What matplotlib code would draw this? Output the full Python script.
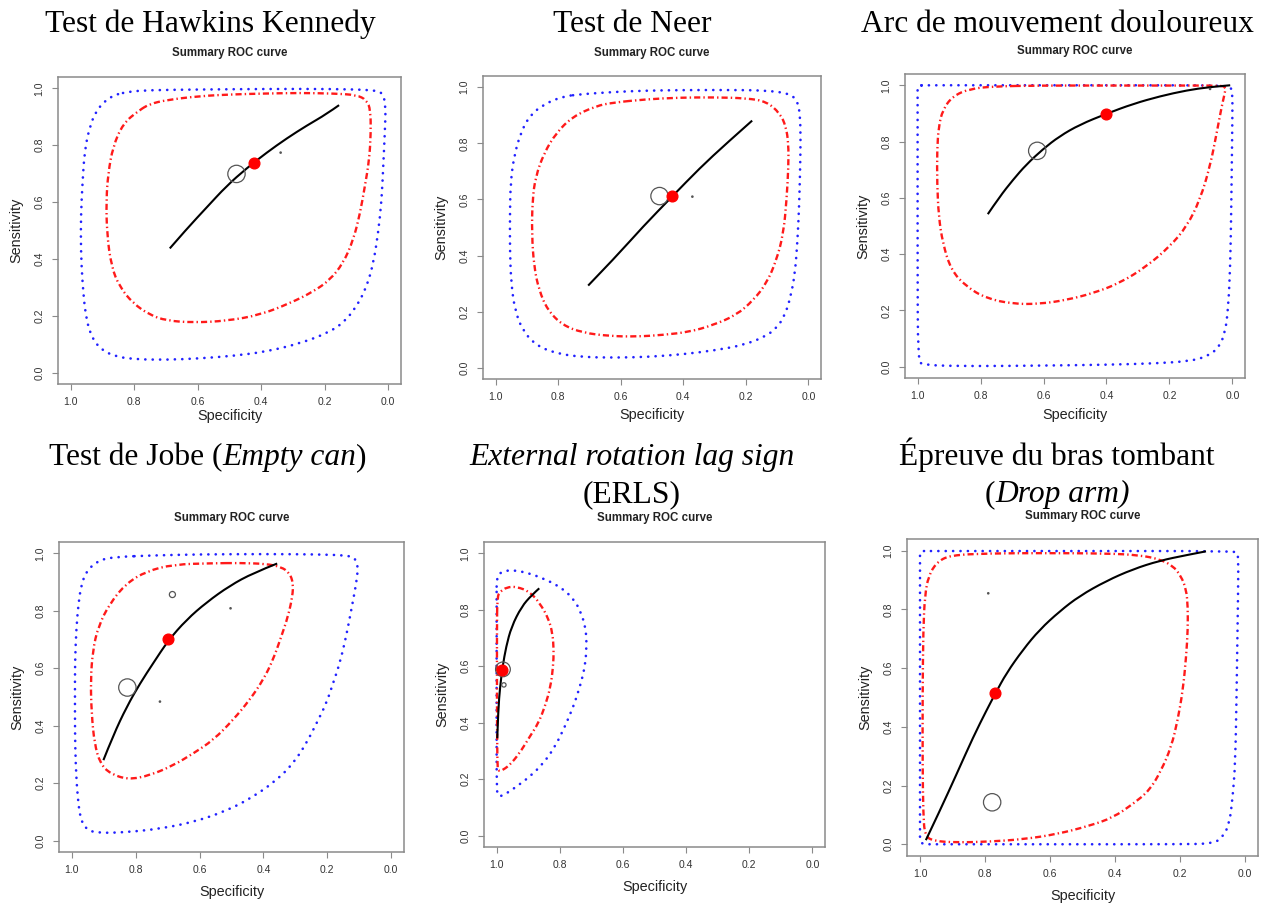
import matplotlib
matplotlib.use("Agg")
import matplotlib.pyplot as plt
from matplotlib.path import Path
from matplotlib.patches import PathPatch
import numpy as np

# ---------------- data (specificity, sensitivity) ----------------
# Panel 1 : Test de Hawkins Kennedy
hk_pred_spec = [0.877,0.919,0.940,0.956,0.963,0.968,0.968,0.963,0.953,0.935,0.909,0.867,0.804,0.699,0.593,0.488,0.383,0.278,0.194,0.142,0.100,0.068,0.047,0.032,0.021,0.016,0.011,0.008,0.016,0.037,0.173,0.383,0.593,0.751,0.825]
hk_pred_sens = [0.971,0.924,0.865,0.783,0.666,0.549,0.431,0.314,0.197,0.127,0.086,0.059,0.047,0.045,0.050,0.059,0.074,0.103,0.138,0.174,0.232,0.302,0.385,0.490,0.607,0.724,0.842,0.936,0.980,0.994,0.998,0.998,0.996,0.994,0.988]
hk_conf_spec = [0.783,0.835,0.867,0.882,0.888,0.886,0.872,0.846,0.804,0.751,0.699,0.614,0.509,0.404,0.310,0.236,0.184,0.142,0.110,0.089,0.074,0.060,0.055,0.056,0.068,0.100,0.173,0.278,0.383,0.488,0.593,0.699,0.751]
hk_conf_sens = [0.924,0.877,0.795,0.701,0.607,0.490,0.373,0.302,0.244,0.203,0.183,0.176,0.182,0.203,0.244,0.285,0.326,0.385,0.467,0.560,0.654,0.748,0.842,0.924,0.959,0.977,0.982,0.984,0.982,0.979,0.973,0.959,0.945]
hk_sroc_spec = [0.688,0.636,0.572,0.509,0.446,0.383,0.320,0.257,0.194,0.155]
hk_sroc_sens = [0.437,0.504,0.581,0.657,0.719,0.774,0.824,0.869,0.910,0.941]
hk_summary = (0.422, 0.736)
hk_study_spec = [0.478, 0.339]
hk_study_sens = [0.699, 0.774]
hk_study_w = [1.0, 0.08]

# Panel 2 : Test de Neer
neer_pred_spec = [0.786,0.850,0.893,0.920,0.941,0.952,0.954,0.954,0.950,0.938,0.914,0.872,0.807,0.722,0.615,0.508,0.401,0.294,0.209,0.144,0.102,0.075,0.057,0.043,0.035,0.030,0.027,0.025,0.027,0.037,0.064,0.144,0.251,0.358,0.465,0.572,0.679,0.733]
neer_pred_sens = [0.967,0.937,0.895,0.836,0.753,0.658,0.539,0.420,0.301,0.206,0.134,0.081,0.051,0.038,0.036,0.039,0.048,0.063,0.081,0.108,0.140,0.188,0.253,0.337,0.455,0.574,0.693,0.812,0.907,0.955,0.979,0.989,0.990,0.990,0.989,0.986,0.979,0.974]
neer_conf_spec = [0.626,0.679,0.754,0.807,0.845,0.872,0.882,0.884,0.877,0.861,0.834,0.786,0.722,0.636,0.551,0.465,0.380,0.305,0.230,0.176,0.134,0.102,0.080,0.070,0.064,0.064,0.072,0.091,0.134,0.198,0.305,0.412,0.519]
neer_conf_sens = [0.945,0.933,0.895,0.836,0.765,0.681,0.598,0.479,0.360,0.277,0.206,0.152,0.125,0.113,0.111,0.117,0.128,0.152,0.188,0.241,0.301,0.384,0.479,0.598,0.717,0.800,0.860,0.907,0.949,0.961,0.964,0.963,0.957]
neer_sroc_spec = [0.704,0.615,0.529,0.436,0.348,0.262,0.180]
neer_sroc_sens = [0.293,0.396,0.503,0.610,0.711,0.800,0.881]
neer_summary = (0.436, 0.612)
neer_study_spec = [0.476, 0.371]
neer_study_sens = [0.612, 0.610]
neer_study_w = [1.0, 0.08]

# Panel 3 : Arc de mouvement douloureux
arc_pred_spec = [1.000,1.000,1.000,1.000,0.999,0.984,0.825,0.613,0.400,0.241,0.135,0.082,0.045,0.023,0.013,0.007,0.004,0.002,0.000,0.000,0.013,0.188,0.506,0.825,0.975]
arc_pred_sens = [0.999,0.975,0.712,0.356,0.024,0.005,0.002,0.004,0.007,0.012,0.020,0.036,0.065,0.119,0.214,0.356,0.534,0.712,0.890,0.985,0.999,1.000,1.000,1.000,1.000]
arc_conf_spec = [0.761,0.835,0.889,0.920,0.933,0.938,0.938,0.933,0.920,0.894,0.846,0.782,0.697,0.613,0.528,0.443,0.358,0.273,0.199,0.145,0.103,0.071,0.050,0.034,0.024,0.021,0.039,0.188,0.400,0.613]
arc_conf_sens = [0.996,0.987,0.961,0.913,0.854,0.771,0.652,0.534,0.439,0.344,0.285,0.243,0.223,0.223,0.237,0.261,0.297,0.356,0.427,0.498,0.593,0.712,0.830,0.925,0.973,0.994,0.999,0.999,0.999,0.999]
arc_sroc_spec = [0.777,0.740,0.697,0.655,0.602,0.549,0.485,0.400,0.315,0.230,0.145,0.071,0.007]
arc_sroc_sens = [0.542,0.603,0.664,0.718,0.773,0.819,0.860,0.899,0.934,0.961,0.982,0.994,1.000]
arc_summary = (0.400, 0.899)
arc_study_spec = [0.620, 0.071]
arc_study_sens = [0.767, 0.987]
arc_study_w = [1.0, 0.08]

# Panel 4 : Test de Jobe (Empty can)
jobe_pred_spec = [0.859,0.911,0.951,0.969,0.979,0.986,0.990,0.990,0.990,0.988,0.982,0.972,0.951,0.911,0.828,0.724,0.620,0.516,0.432,0.359,0.307,0.266,0.234,0.203,0.182,0.161,0.141,0.125,0.111,0.104,0.109,0.130,0.234,0.391,0.599,0.755]
jobe_pred_sens = [0.988,0.979,0.944,0.897,0.828,0.734,0.618,0.501,0.385,0.268,0.152,0.070,0.035,0.026,0.029,0.041,0.064,0.103,0.152,0.210,0.268,0.338,0.408,0.478,0.548,0.618,0.711,0.804,0.886,0.944,0.979,0.993,0.997,0.998,0.997,0.993]
jobe_conf_spec = [0.557,0.682,0.766,0.828,0.880,0.917,0.934,0.941,0.938,0.929,0.911,0.880,0.823,0.755,0.682,0.620,0.557,0.495,0.443,0.401,0.370,0.344,0.323,0.309,0.307,0.318,0.344,0.391,0.474]
jobe_conf_sens = [0.966,0.962,0.938,0.897,0.828,0.746,0.664,0.559,0.443,0.338,0.268,0.233,0.212,0.227,0.262,0.303,0.350,0.420,0.490,0.559,0.629,0.711,0.781,0.851,0.897,0.932,0.953,0.964,0.967]
jobe_sroc_spec = [0.901,0.870,0.828,0.786,0.745,0.698,0.641,0.578,0.505,0.432,0.357]
jobe_sroc_sens = [0.280,0.367,0.466,0.548,0.618,0.697,0.769,0.830,0.888,0.932,0.965]
jobe_summary = (0.698, 0.702)
jobe_study_spec = [0.826, 0.685, 0.503, 0.724]
jobe_study_sens = [0.533, 0.857, 0.809, 0.484]
jobe_study_w = [1.0, 0.35, 0.08, 0.08]

# Panel 5 : External rotation lag sign (ERLS)
erls_pred_spec = [1.000,0.984,0.953,0.905,0.852,0.800,0.757,0.731,0.717,0.715,0.720,0.736,0.757,0.784,0.815,0.852,0.895,0.937,0.968,0.995,1.000,1.000,1.000,1.000]
erls_pred_sens = [0.917,0.935,0.941,0.932,0.911,0.882,0.841,0.787,0.728,0.669,0.599,0.528,0.457,0.386,0.315,0.256,0.209,0.174,0.150,0.136,0.162,0.374,0.610,0.847]
erls_conf_spec = [0.998,0.989,0.968,0.937,0.895,0.863,0.836,0.823,0.819,0.821,0.829,0.847,0.868,0.895,0.921,0.953,0.979,0.995,0.998,0.999,0.999]
erls_conf_sens = [0.847,0.864,0.880,0.882,0.864,0.823,0.770,0.717,0.658,0.599,0.528,0.457,0.398,0.351,0.303,0.256,0.233,0.227,0.256,0.492,0.728]
erls_sroc_spec = [0.998,0.995,0.989,0.981,0.970,0.953,0.921,0.889,0.865]
erls_sroc_sens = [0.345,0.445,0.528,0.599,0.669,0.740,0.811,0.852,0.876]
erls_summary = (0.982, 0.587)
erls_study_spec = [0.980, 0.977]
erls_study_sens = [0.589, 0.534]
erls_study_w = [0.85, 0.25]

# Panel 6 : Epreuve du bras tombant (Drop arm)
drop_pred_spec = [1.000,1.000,1.000,1.000,1.000,0.990,0.970,0.600,0.200,0.099,0.069,0.048,0.038,0.030,0.026,0.023,0.020,0.023,0.033,0.500,0.975]
drop_pred_sens = [0.999,0.975,0.500,0.030,0.010,0.000,0.000,0.000,0.000,0.002,0.023,0.069,0.160,0.274,0.503,0.731,0.960,0.992,0.999,0.999,0.999]
drop_conf_spec = [0.785,0.908,0.949,0.974,0.985,0.990,0.992,0.992,0.990,0.985,0.959,0.887,0.785,0.683,0.580,0.478,0.406,0.345,0.294,0.258,0.227,0.207,0.191,0.181,0.176,0.176,0.181,0.197,0.222,0.263,0.324,0.427,0.632]
drop_conf_sens = [0.991,0.985,0.960,0.914,0.846,0.731,0.503,0.274,0.103,0.029,0.011,0.006,0.009,0.017,0.034,0.063,0.091,0.137,0.183,0.251,0.331,0.423,0.526,0.640,0.731,0.811,0.869,0.914,0.949,0.971,0.985,0.991,0.992]
drop_sroc_spec = [0.982,0.939,0.887,0.836,0.795,0.768,0.734,0.683,0.632,0.570,0.509,0.427,0.345,0.263,0.181,0.120]
drop_sroc_sens = [0.014,0.114,0.240,0.366,0.457,0.514,0.583,0.663,0.731,0.794,0.846,0.897,0.937,0.966,0.985,0.998]
drop_summary = (0.768, 0.517)
drop_study_spec = [0.778, 0.790]
drop_study_sens = [0.143, 0.855]
drop_study_w = [1.0, 0.08]

tick_values = [0.0, 0.2, 0.4, 0.6, 0.8, 1.0]
tick_labels = ["0.0", "0.2", "0.4", "0.6", "0.8", "1.0"]

titles = [
    [[("Test de Hawkins Kennedy", "normal")]],
    [[("Test de Neer", "normal")]],
    [[("Arc de mouvement douloureux", "normal")]],
    [[("Test de Jobe (", "normal"), ("Empty can", "italic"), (")", "normal")]],
    [[("External rotation lag sign", "italic")], [("(ERLS)", "normal")]],
    [[("Épreuve du bras tombant", "normal")], [("(", "normal"), ("Drop arm)", "italic")]],
]

# ---------------- layout (pixels) ----------------
W, H = 1267, 907
fig = plt.figure(figsize=(W / 100, H / 100), dpi=100)
fig.patch.set_facecolor("white")

layout = [
    dict(box=(58, 77, 401, 384), tx=210, ty=[32], sy=53, xly=416),
    dict(box=(483, 76, 821, 379), tx=632, ty=[32], sy=53, xly=415),
    dict(box=(905, 74, 1245, 378), tx=1057, ty=[32], sy=51, xly=415),
    dict(box=(59, 542, 404, 852), tx=208, ty=[465], sy=518, xly=892),
    dict(box=(484, 542, 825, 847), tx=632, ty=[465, 502], sy=518, xly=887),
    dict(box=(907, 539, 1258, 856), tx=1057, ty=[465, 502], sy=516, xly=896),
]

panels = [
    (hk_pred_spec, hk_pred_sens, hk_conf_spec, hk_conf_sens, hk_sroc_spec, hk_sroc_sens, hk_summary, hk_study_spec, hk_study_sens, hk_study_w),
    (neer_pred_spec, neer_pred_sens, neer_conf_spec, neer_conf_sens, neer_sroc_spec, neer_sroc_sens, neer_summary, neer_study_spec, neer_study_sens, neer_study_w),
    (arc_pred_spec, arc_pred_sens, arc_conf_spec, arc_conf_sens, arc_sroc_spec, arc_sroc_sens, arc_summary, arc_study_spec, arc_study_sens, arc_study_w),
    (jobe_pred_spec, jobe_pred_sens, jobe_conf_spec, jobe_conf_sens, jobe_sroc_spec, jobe_sroc_sens, jobe_summary, jobe_study_spec, jobe_study_sens, jobe_study_w),
    (erls_pred_spec, erls_pred_sens, erls_conf_spec, erls_conf_sens, erls_sroc_spec, erls_sroc_sens, erls_summary, erls_study_spec, erls_study_sens, erls_study_w),
    (drop_pred_spec, drop_pred_sens, drop_conf_spec, drop_conf_sens, drop_sroc_spec, drop_sroc_sens, drop_summary, drop_study_spec, drop_study_sens, drop_study_w),
]


def fx(x):
    return x / W


def fy(y):
    return 1 - y / H


renderer = fig.canvas.get_renderer()


def rich_line(xc, yb, parts, size=22.7):
    objs, widths = [], []
    for s, st in parts:
        t = fig.text(0, 0, s, fontsize=size, family="Liberation Serif", style=st,
                     ha="left", va="baseline", color="black")
        widths.append(t.get_window_extent(renderer).width)
        objs.append(t)
    x = xc - sum(widths) / 2
    for t, w in zip(objs, widths):
        t.set_position((fx(x), fy(yb)))
        x += w


def smooth_path(xs, ys, closed=False):
    """Quadratic-Bezier path using the read points as control points."""
    p = np.column_stack([xs, ys]).astype(float)
    n = len(p)
    verts, codes = [], []
    if closed:
        mid = lambda i: (p[i % n] + p[(i + 1) % n]) / 2
        verts.append(mid(n - 1)); codes.append(Path.MOVETO)
        for i in range(n):
            verts += [p[i], mid(i)]
            codes += [Path.CURVE3, Path.CURVE3]
    else:
        verts.append(p[0]); codes.append(Path.MOVETO)
        for i in range(1, n - 1):
            end = p[n - 1] if i == n - 2 else (p[i] + p[i + 1]) / 2
            verts += [p[i], end]
            codes += [Path.CURVE3, Path.CURVE3]
        if n == 2:
            verts.append(p[1]); codes.append(Path.LINETO)
    return Path(np.array(verts), codes)


SANS = "Liberation Sans"
for (pred_x, pred_y, conf_x, conf_y, sroc_x, sroc_y, summ, st_x, st_y, st_w), lay, ttl in zip(panels, layout, titles):
    l, t, r, b = lay["box"]
    ax = fig.add_axes([fx(l), fy(b), (r - l) / W, (b - t) / H])
    ax.set_xlim(1.04, -0.04)
    ax.set_ylim(-0.04, 1.04)
    for sp in ax.spines.values():
        sp.set_color("#8a8a8a")
        sp.set_linewidth(1.1)
    ax.set_xticks(tick_values)
    ax.set_xticklabels(tick_labels)
    ax.set_yticks(tick_values)
    ax.set_yticklabels(tick_labels)
    ax.tick_params(length=4.1, width=0.8, color="#8a8a8a", pad=5.5,
                   labelsize=7.5, labelcolor="#333333")
    for lbl in ax.get_xticklabels() + ax.get_yticklabels():
        lbl.set_family(SANS)
    for lbl in ax.get_yticklabels():
        lbl.set_rotation(90)
        lbl.set_va("center")

    # prediction region (blue dotted)
    ax.add_patch(PathPatch(smooth_path(pred_x, pred_y, closed=True), fill=False,
                           edgecolor="#2222ff", lw=1.9, ls=(0, (0.05, 2.75)),
                           capstyle="round", zorder=2))
    # confidence region (red dash-dot)
    ax.add_patch(PathPatch(smooth_path(conf_x, conf_y, closed=True), fill=False,
                           edgecolor="#ff1a1a", lw=1.7, ls=(0, (2.6, 1.3, 0.6, 1.3)),
                           capstyle="butt", zorder=3))
    # SROC curve
    ax.add_patch(PathPatch(smooth_path(sroc_x, sroc_y), fill=False, edgecolor="black",
                           lw=1.5, zorder=4))
    # studies
    ax.scatter(st_x, st_y, s=[(12.5 * w) ** 2 for w in st_w], facecolors="none",
               edgecolors="#555555", linewidths=0.9, zorder=5)
    # summary estimate
    ax.plot([summ[0]], [summ[1]], "o", color="#ff0000", ms=7.7, mec="#ff0000", zorder=6)

    # texts
    xc = (l + r) / 2
    fig.text(fx(xc), fy(lay["sy"]), "Summary ROC curve", family=SANS, fontsize=8.3,
             fontweight="bold", ha="center", va="center", color="#222222")
    fig.text(fx(xc), fy(lay["xly"]), "Specificity", family=SANS, fontsize=10.4,
             ha="center", va="center", color="#222222")
    fig.text(fx(l - 42), fy((t + b) / 2), "Sensitivity", family=SANS, fontsize=10.4,
             ha="center", va="center", rotation=90, color="#222222")
    for line, yb in zip(ttl, lay["ty"]):
        rich_line(lay["tx"], yb, line)

fig.savefig("out.png", dpi=100, facecolor="white")
